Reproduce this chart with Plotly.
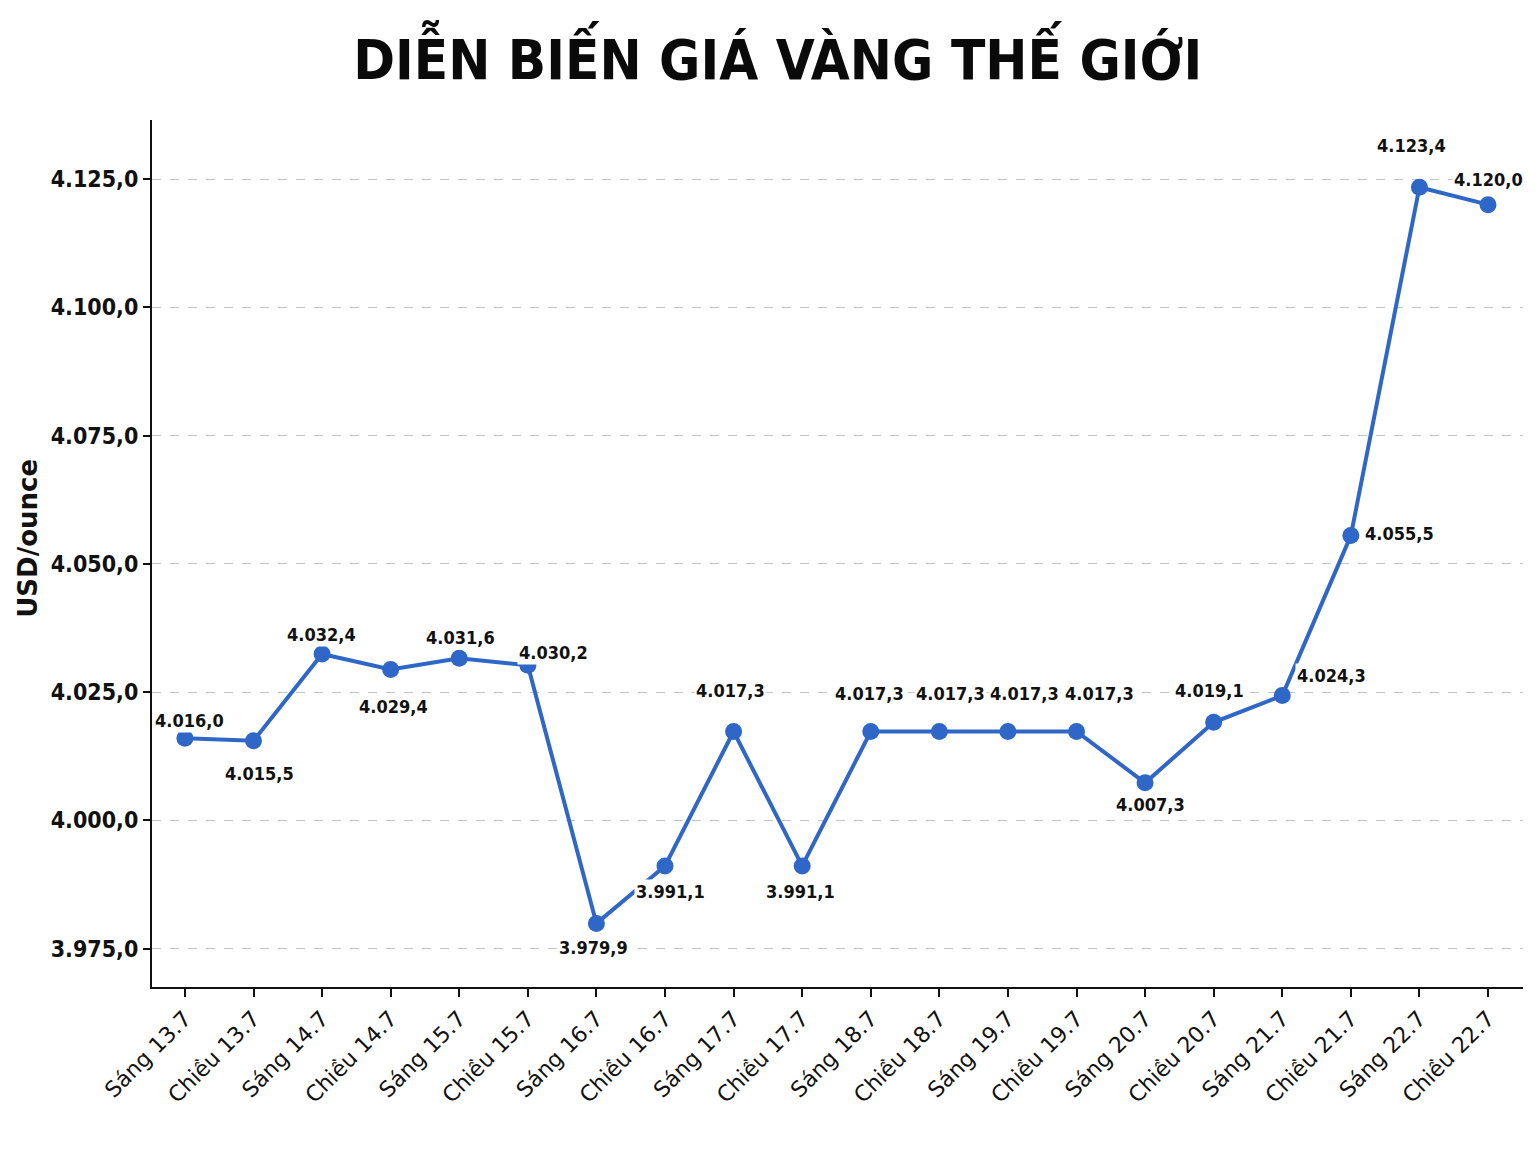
import plotly.graph_objects as go

categories = ["Sáng 13.7", "Chiều 13.7", "Sáng 14.7", "Chiều 14.7", "Sáng 15.7",
              "Chiều 15.7", "Sáng 16.7", "Chiều 16.7", "Sáng 17.7", "Chiều 17.7",
              "Sáng 18.7", "Chiều 18.7", "Sáng 19.7", "Chiều 19.7", "Sáng 20.7",
              "Chiều 20.7", "Sáng 21.7", "Chiều 21.7", "Sáng 22.7", "Chiều 22.7"]
prices = [4016.0, 4015.5, 4032.4, 4029.4, 4031.6,
          4030.2, 3979.9, 3991.1, 4017.3, 3991.1,
          4017.3, 4017.3, 4017.3, 4017.3, 4007.3,
          4019.1, 4024.3, 4055.5, 4123.4, 4120.0]
y_ticks = [3975, 4000, 4025, 4050, 4075, 4100, 4125]
y_tick_labels = ["3.975,0", "4.000,0", "4.025,0", "4.050,0", "4.075,0", "4.100,0", "4.125,0"]


def vn_fmt(v):
    s = f"{v:,.1f}"
    return s.replace(",", "X").replace(".", ",").replace("X", ".")


# label offsets (pixels): (xshift, yshift) -- style only
label_offsets = [(5, 18), (6, -33), (-1, 20), (3, -37), (1, 21),
                 (26, 13), (-3, -24), (5, -26), (-3, 41), (-2, -26),
                 (-1, 38), (11, 38), (17, 38), (23, 38), (5, -22),
                 (-4, 32), (49, 20), (49, 2), (-8, 42), (0, 25)]

BLUE = "#2e67c8"
fig = go.Figure()
fig.add_trace(go.Scatter(
    x=list(range(len(categories))), y=prices, mode="lines+markers",
    line=dict(color=BLUE, width=4),
    marker=dict(color=BLUE, size=17),
    hoverinfo="skip", showlegend=False,
))

for i, v in enumerate(prices):
    dx, dy = label_offsets[i]
    fig.add_annotation(
        x=i, y=v, text=vn_fmt(v), showarrow=False,
        xshift=dx, yshift=dy, bgcolor="white", borderpad=1,
        font=dict(family="DejaVu Sans Condensed, DejaVu Sans", size=18, color="#111111", weight="bold"),
    )

fig.add_annotation(
    xref="paper", yref="paper", x=-0.091, y=0.5, xanchor="center", yanchor="middle",
    text="USD/ounce", textangle=-90, showarrow=False,
    yshift=15,
    font=dict(family="DejaVu Sans", size=26, color="#111111", weight="bold"),
)

fig.update_layout(
    width=1540, height=1150,
    paper_bgcolor="white", plot_bgcolor="white",
    margin=dict(l=152, r=17, t=120, b=163),
    title=dict(
        text="DIỄN BIẾN GIÁ VÀNG THẾ GIỚI",
        x=0.505, xanchor="center", y=0.948, yanchor="middle",
        font=dict(family="DejaVu Sans Condensed, DejaVu Sans", size=56,
                  color="#0a0a0a", weight="bold"),
    ),
    xaxis=dict(
        range=[-0.48, 19.51],
        tickmode="array", tickvals=list(range(len(categories))), ticktext=categories,
        tickangle=-45,
        tickfont=dict(family="DejaVu Sans", size=22, color="#111111"),
        showline=True, linecolor="#111111", linewidth=2,
        ticks="outside", ticklen=8, tickwidth=1.5, tickcolor="#111111",
        showgrid=False, zeroline=False,
    ),
    yaxis=dict(
        range=[3967.5, 4136.5],
        tickmode="array", tickvals=y_ticks, ticktext=y_tick_labels,
        tickfont=dict(family="DejaVu Sans Condensed, DejaVu Sans", size=23, color="#111111", weight="bold"),
        showline=True, linecolor="#111111", linewidth=2,
        ticks="outside", ticklen=7, tickwidth=1.5, tickcolor="#111111",
        showgrid=True, gridcolor="#c4c4c4", gridwidth=1, griddash="dash",
        zeroline=False,
    ),
)

fig.write_html("out.html")
